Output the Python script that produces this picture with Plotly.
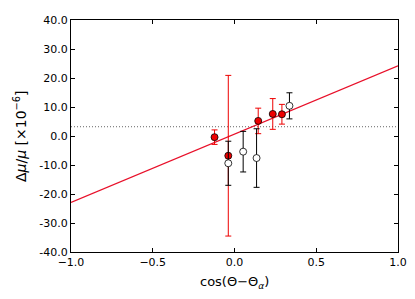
import plotly.graph_objects as go

# data
red_x = [-0.122, -0.038, 0.145, 0.234, 0.290]
red_y = [-0.4, -6.8, 5.2, 7.6, 7.5]
red_err = [2.5, 27.7, 4.4, 5.3, 3.4]

open_x = [-0.038, 0.053, 0.135, 0.336]
open_y = [-9.4, -5.4, -7.6, 10.4]
open_err = [7.6, 7.0, 10.1, 4.5]

fit_x = [-1.0, 1.0]
fit_y = [-22.9, 24.2]

ref_level = 3.2

x_ticks = [-1.0, -0.5, 0.0, 0.5, 1.0]
x_tick_text = ["\u22121.0", "\u22120.5", "0.0", "0.5", "1.0"]
y_ticks = [-40, -30, -20, -10, 0, 10, 20, 30, 40]
y_tick_text = ["-40.0", "-30.0", "-20.0", "-10.0", "0.0", "10.0", "20.0", "30.0", "40.0"]

font = "DejaVu Sans"

fig = go.Figure()
fig.add_trace(go.Scatter(x=[-1.0, 1.0], y=[ref_level, ref_level], mode="lines",
                         line=dict(color="#666666", width=1, dash="1px,2px"), hoverinfo="skip"))
fig.add_trace(go.Scatter(x=fit_x, y=fit_y, mode="lines",
                         line=dict(color="#e8102a", width=1.3), hoverinfo="skip"))
fig.add_trace(go.Scatter(x=red_x, y=red_y, mode="markers",
                         marker=dict(color="#ee0000", size=7, line=dict(color="black", width=0.8)),
                         error_y=dict(type="data", array=red_err, color="#ee0000", thickness=1, width=3)))
fig.add_trace(go.Scatter(x=open_x, y=open_y, mode="markers",
                         marker=dict(color="white", size=7, line=dict(color="black", width=0.8)),
                         error_y=dict(type="data", array=open_err, color="black", thickness=1, width=3)))

axis_common = dict(showgrid=False, zeroline=False, showline=True, linecolor="black", linewidth=1,
                   mirror="ticks", ticks="inside", ticklen=4, tickcolor="black",
                   ticklabeloverflow="allow",
                   tickfont=dict(family=font, size=11, color="black"))

# page body has an 8px default margin, so the figure is sized to compensate
fig.update_layout(
    width=407, height=291,
    margin=dict(l=63, r=17, t=6, b=47),
    paper_bgcolor="white", plot_bgcolor="white",
    showlegend=False,
    xaxis=dict(range=[-1.0, 1.0], tickvals=x_ticks, ticktext=x_tick_text, **axis_common),
    yaxis=dict(range=[-40, 40], tickvals=y_ticks, ticktext=y_tick_text, **axis_common),
    annotations=[
        dict(text="cos(\u0398\u2212\u0398<sub><i>\u03b1</i></sub>)", xref="paper", yref="paper",
             x=0.5, y=0, yshift=-30, xanchor="center", yanchor="middle", showarrow=False,
             font=dict(family=font, size=13, color="black")),
        dict(text="\u0394<i>\u03bc</i>/<i>\u03bc</i> [\u00d710<sup>\u22126</sup>]", xref="paper", yref="paper",
             x=0, xshift=-51, y=0.5, textangle=-90, xanchor="center", yanchor="middle", showarrow=False,
             font=dict(family=font, size=14, color="black")),
    ],
)

fig.write_html("out.html")
